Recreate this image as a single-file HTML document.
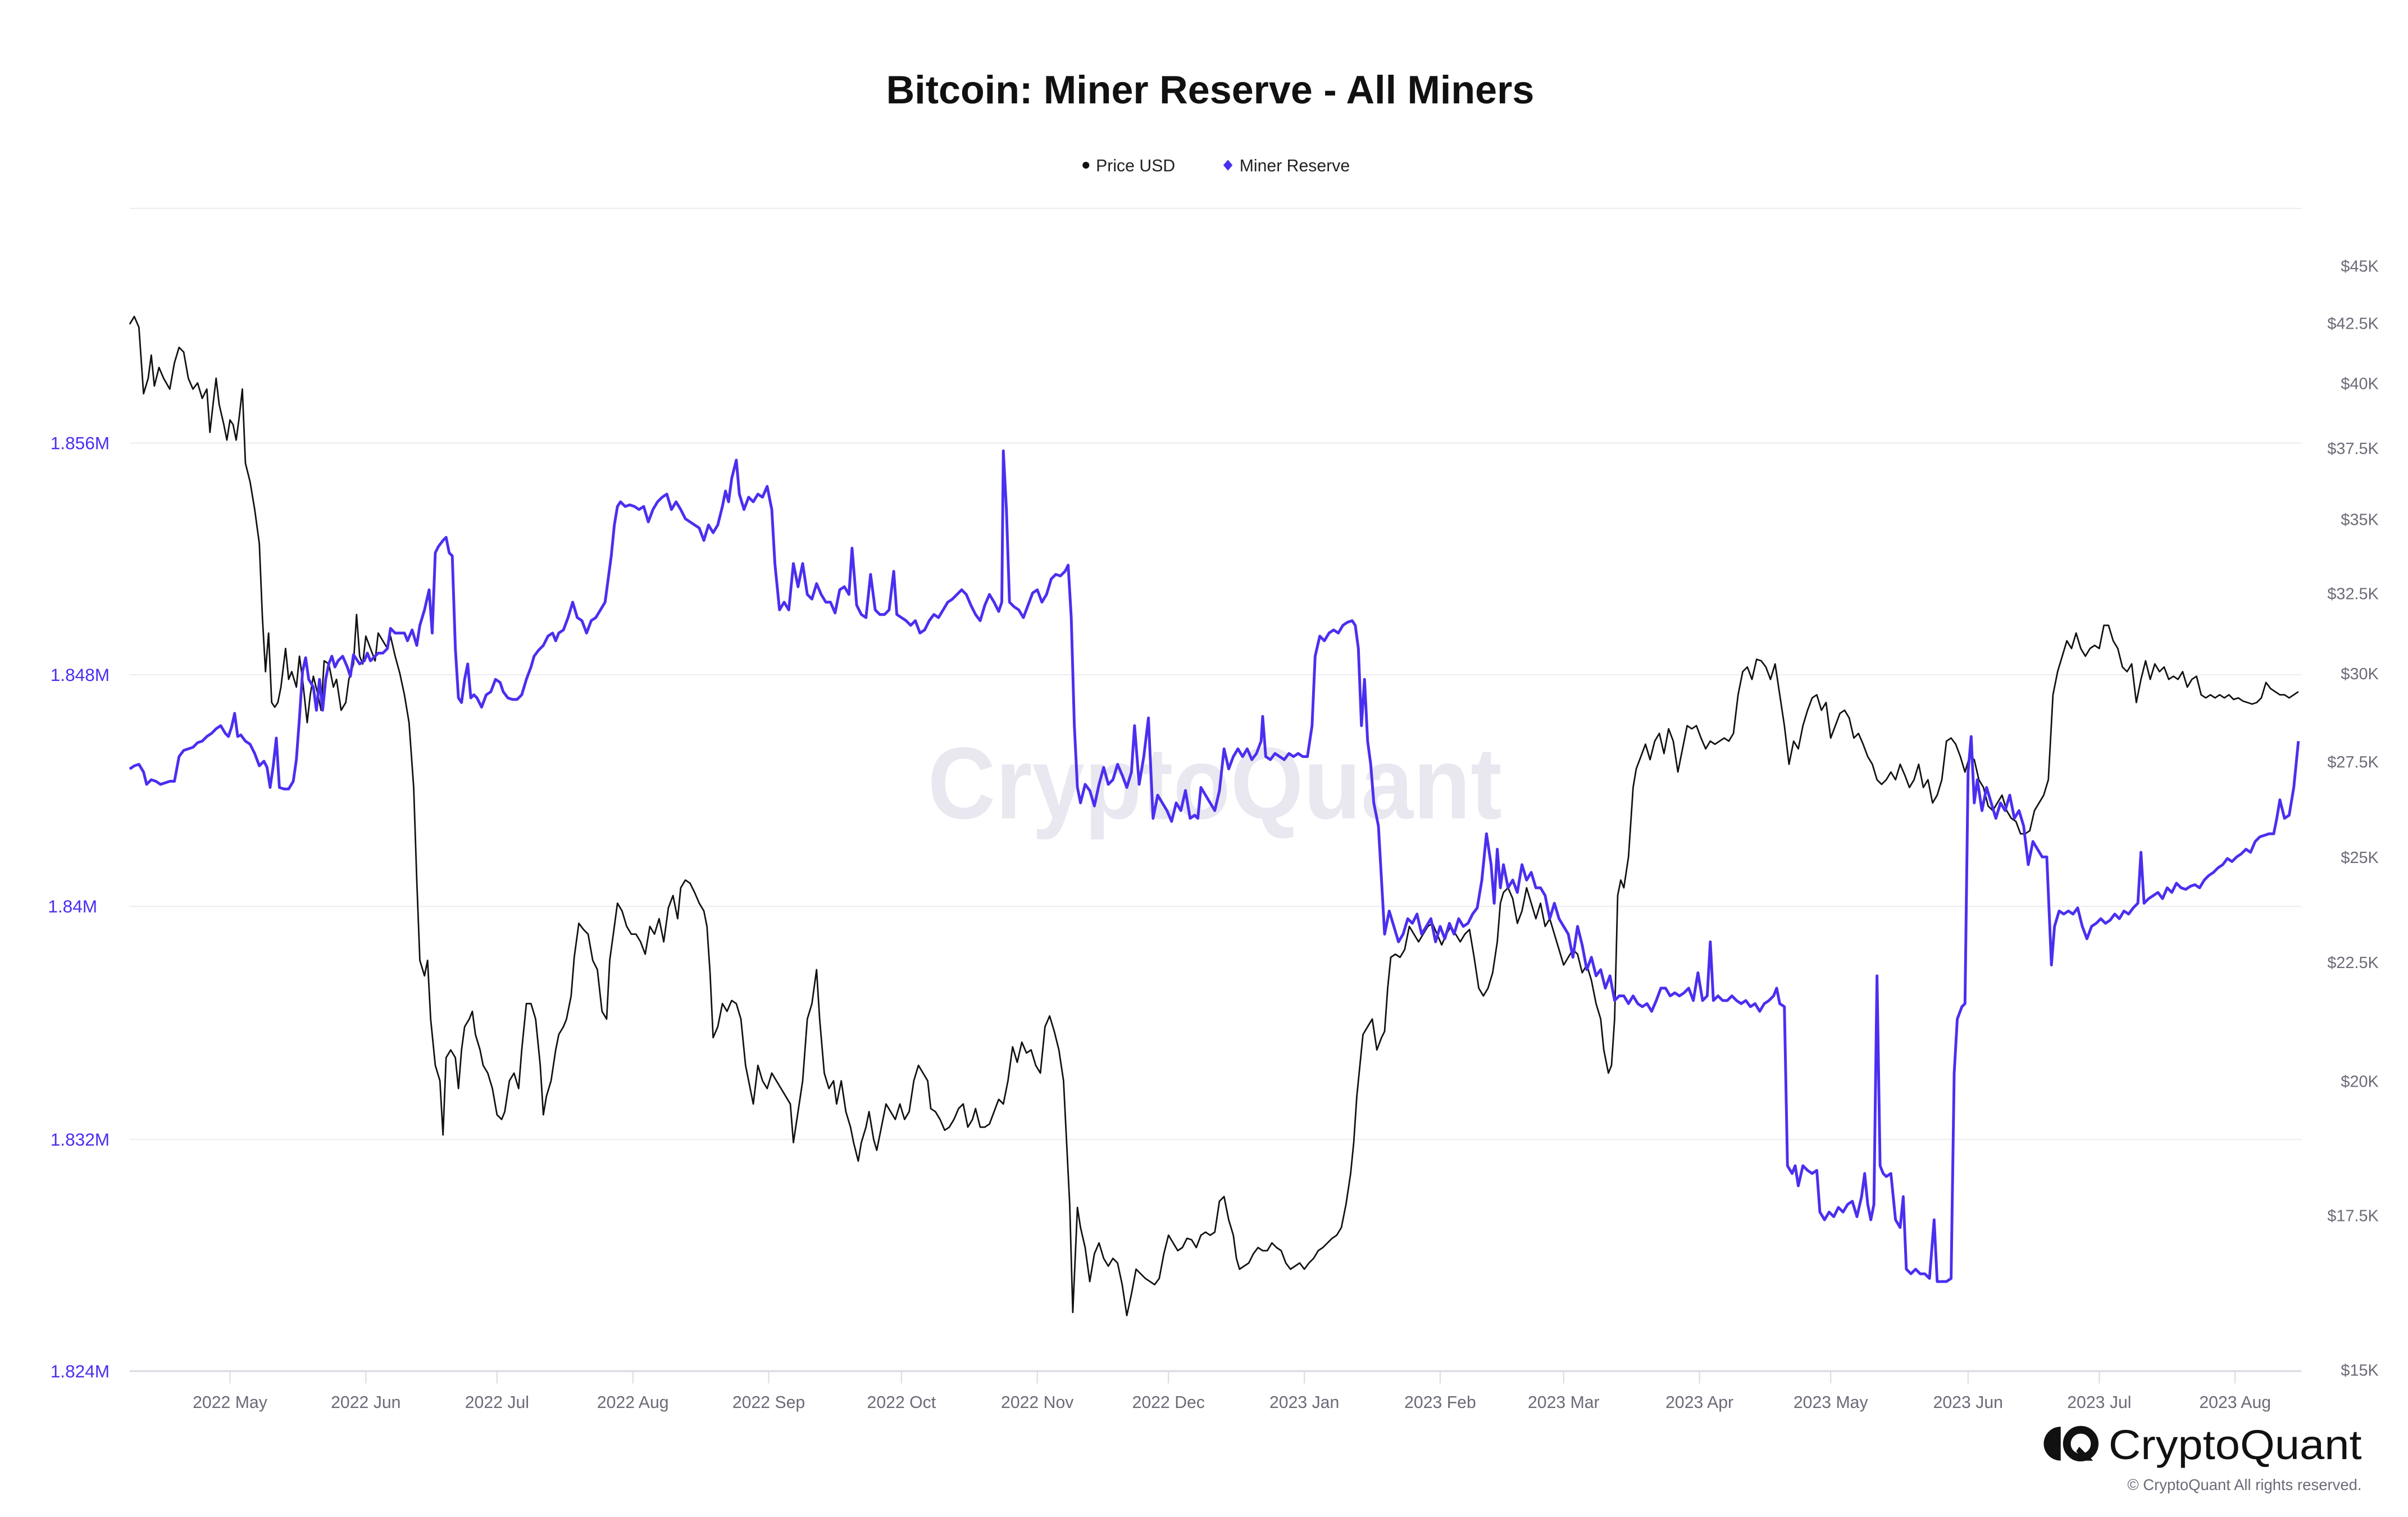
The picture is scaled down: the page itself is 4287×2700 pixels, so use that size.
<!DOCTYPE html>
<html><head><meta charset="utf-8"><style>
html,body{margin:0;padding:0;background:#fff;}
svg{display:block;}
text{font-family:"Liberation Sans",Arial,sans-serif;}
</style></head><body>
<svg width="4287" height="2700" viewBox="0 0 1560 982.5" xmlns="http://www.w3.org/2000/svg">
<rect width="1560" height="982.5" fill="#fff"/>
<text x="784" y="67" text-anchor="middle" font-size="25.5" font-weight="bold" fill="#111">Bitcoin: Miner Reserve - All Miners</text>
<circle cx="703.5" cy="107" r="2.2" fill="#111"/>
<text x="710" y="111" font-size="11" fill="#222">Price USD</text>
<path d="M795.5 103.5 L798.5 107 L795.5 110.5 L792.5 107Z" fill="#4a2ff0"/>
<text x="803" y="111" font-size="11" fill="#222">Miner Reserve</text>
<g stroke="#eeeef2" stroke-width="0.8">
<line x1="84" x2="1491" y1="135" y2="135"/>
<line x1="84" x2="1491" y1="287" y2="287"/>
<line x1="84" x2="1491" y1="437" y2="437"/>
<line x1="84" x2="1491" y1="587" y2="587"/>
<line x1="84" x2="1491" y1="738" y2="738"/>
</g>
<line x1="84" x2="1491" y1="888" y2="888" stroke="#dcdce4" stroke-width="1.2"/>
<g stroke="#dcdce4" stroke-width="0.8">
<line x1="149" x2="149" y1="888" y2="896"/><line x1="237" x2="237" y1="888" y2="896"/><line x1="322" x2="322" y1="888" y2="896"/><line x1="410" x2="410" y1="888" y2="896"/><line x1="498" x2="498" y1="888" y2="896"/><line x1="584" x2="584" y1="888" y2="896"/><line x1="672" x2="672" y1="888" y2="896"/><line x1="757" x2="757" y1="888" y2="896"/><line x1="845" x2="845" y1="888" y2="896"/><line x1="933" x2="933" y1="888" y2="896"/><line x1="1013" x2="1013" y1="888" y2="896"/><line x1="1101" x2="1101" y1="888" y2="896"/><line x1="1186" x2="1186" y1="888" y2="896"/><line x1="1275" x2="1275" y1="888" y2="896"/><line x1="1360" x2="1360" y1="888" y2="896"/><line x1="1448" x2="1448" y1="888" y2="896"/>
</g>
<g font-size="11" fill="#6b6b78" text-anchor="middle">
<text x="149" y="912">2022 May</text><text x="237" y="912">2022 Jun</text><text x="322" y="912">2022 Jul</text><text x="410" y="912">2022 Aug</text><text x="498" y="912">2022 Sep</text><text x="584" y="912">2022 Oct</text><text x="672" y="912">2022 Nov</text><text x="757" y="912">2022 Dec</text><text x="845" y="912">2023 Jan</text><text x="933" y="912">2023 Feb</text><text x="1013" y="912">2023 Mar</text><text x="1101" y="912">2023 Apr</text><text x="1186" y="912">2023 May</text><text x="1275" y="912">2023 Jun</text><text x="1360" y="912">2023 Jul</text><text x="1448" y="912">2023 Aug</text>
</g>
<g font-size="11.5" fill="#4a2ff0" text-anchor="end">
<text x="71" y="291">1.856M</text><text x="71" y="441">1.848M</text><text x="63" y="591">1.84M</text><text x="71" y="742">1.832M</text><text x="71" y="892">1.824M</text>
</g>
<g font-size="10.5" fill="#6b6b78" text-anchor="end">
<text x="1541" y="176">$45K</text><text x="1541" y="213">$42.5K</text><text x="1541" y="252">$40K</text><text x="1541" y="294">$37.5K</text><text x="1541" y="340">$35K</text><text x="1541" y="388">$32.5K</text><text x="1541" y="440">$30K</text><text x="1541" y="497">$27.5K</text><text x="1541" y="559">$25K</text><text x="1541" y="627">$22.5K</text><text x="1541" y="704">$20K</text><text x="1541" y="791">$17.5K</text><text x="1541" y="891">$15K</text>
</g>
<text x="787" y="530" text-anchor="middle" font-size="66" font-weight="bold" fill="#e9e7ef" textLength="372" lengthAdjust="spacingAndGlyphs">CryptoQuant</text>
<polyline fill="none" stroke="#111" stroke-width="1" stroke-linejoin="round" points="84,210 87,205 90,212 93,255 96,245 98,230 100,250 103,238 106,245 110,252 113,235 116,225 119,228 122,245 125,252 128,248 131,258 134,252 136,280 138,262 140,245 142,262 145,275 147,285 149,272 151,275 153,285 155,270 157,252 159,300 162,312 165,330 168,352 170,400 172,435 174,410 176,455 178,458 180,455 182,445 185,420 187,440 189,435 192,445 194,425 196,440 199,468 201,450 203,438 206,450 208,460 210,428 213,430 216,445 218,440 221,460 224,455 226,440 229,430 231,398 233,425 235,430 237,412 240,420 243,428 245,410 248,415 251,420 253,412 256,425 259,436 262,450 265,468 268,510 270,570 272,622 275,632 277,622 279,660 282,690 285,700 287,735 289,685 292,680 295,685 297,705 299,680 301,665 304,660 306,655 308,670 311,680 313,690 316,695 319,705 322,722 325,725 327,720 330,700 333,695 336,705 338,680 341,650 344,650 347,660 350,690 352,722 354,710 357,700 360,680 362,670 365,665 367,660 370,645 372,620 375,598 378,602 381,605 384,622 387,628 390,655 393,660 395,622 398,600 400,585 403,590 406,600 409,605 412,605 415,610 418,618 421,600 424,605 427,595 430,610 433,588 436,580 439,595 441,575 444,570 447,572 450,578 453,585 456,590 458,600 460,630 462,672 465,665 468,650 471,655 474,648 477,650 480,660 483,690 486,705 488,715 491,690 494,700 497,705 500,695 503,700 506,705 509,710 512,715 514,740 517,720 520,700 523,660 526,650 529,628 531,660 534,695 537,705 540,700 542,715 545,700 548,720 551,730 553,740 556,752 558,740 561,730 563,720 566,738 568,745 571,730 574,715 577,720 580,725 583,715 586,725 589,720 592,700 595,690 598,695 601,700 603,718 606,720 609,725 612,732 615,730 618,725 621,718 624,715 627,730 630,725 632,718 635,730 638,730 641,728 644,720 647,712 650,715 653,700 656,678 659,688 662,675 665,682 668,680 671,690 674,695 677,665 680,658 683,668 686,680 689,700 691,740 693,780 695,850 698,782 700,795 703,808 706,830 709,812 712,805 715,815 718,820 721,815 724,818 727,832 730,852 733,838 736,822 739,825 742,828 745,830 748,832 751,828 754,812 757,800 760,805 763,810 766,808 769,802 772,803 775,808 778,800 781,798 784,800 787,798 790,778 793,775 796,790 799,800 801,815 803,822 806,820 809,818 812,812 815,808 818,810 821,810 824,805 827,808 830,810 833,818 836,822 839,820 842,818 845,822 848,818 851,815 854,810 857,808 860,805 863,802 866,800 869,795 872,780 875,760 877,740 879,710 881,690 883,670 886,665 889,660 892,680 895,672 897,668 899,640 901,620 904,618 907,620 910,615 913,600 916,605 919,610 922,605 925,600 928,598 931,605 934,612 937,605 940,600 943,605 946,610 949,605 952,602 955,620 958,640 961,645 964,640 967,630 970,610 972,585 974,578 977,575 980,582 983,598 986,590 989,575 992,585 995,595 998,585 1001,600 1004,595 1007,605 1010,615 1013,625 1016,620 1019,615 1022,618 1025,630 1028,625 1031,635 1034,650 1037,660 1039,680 1042,695 1044,690 1046,660 1048,580 1050,570 1052,575 1055,555 1058,510 1060,498 1063,490 1066,482 1069,492 1072,480 1075,475 1078,488 1081,472 1084,480 1087,500 1090,485 1093,470 1096,472 1099,470 1102,478 1105,485 1108,480 1111,482 1114,480 1117,478 1120,480 1123,475 1126,450 1129,435 1132,432 1135,440 1138,427 1141,428 1144,432 1147,440 1150,430 1153,450 1156,470 1159,495 1162,480 1165,485 1168,470 1171,460 1174,452 1177,450 1180,460 1183,455 1186,478 1189,470 1192,462 1195,460 1198,465 1201,478 1204,475 1207,482 1210,490 1213,495 1216,505 1219,508 1222,505 1225,500 1228,505 1231,495 1234,502 1237,510 1240,505 1243,495 1246,510 1249,505 1252,520 1255,515 1258,505 1261,480 1264,478 1267,482 1270,490 1273,500 1276,490 1279,492 1282,505 1285,510 1288,522 1291,525 1294,520 1297,515 1300,525 1303,530 1306,532 1309,540 1312,540 1315,538 1318,525 1321,520 1324,515 1327,505 1330,450 1333,435 1336,425 1339,415 1342,420 1345,410 1348,420 1351,425 1354,420 1357,418 1360,420 1363,405 1366,405 1369,415 1372,420 1375,432 1378,435 1381,430 1384,455 1387,440 1390,428 1393,440 1396,430 1399,435 1402,432 1405,440 1408,438 1411,440 1414,435 1417,445 1420,440 1423,438 1426,450 1429,452 1432,450 1435,452 1438,450 1441,452 1444,450 1447,453 1450,452 1453,454 1456,455 1459,456 1462,455 1465,452 1468,442 1471,446 1474,448 1477,450 1480,450 1483,452 1486,450 1489,448"/>
<polyline fill="none" stroke="#4a2ff0" stroke-width="1.8" stroke-linejoin="round" points="84,498 87,496 90,495 93,500 95,508 98,505 101,506 104,508 107,507 110,506 113,506 116,490 119,486 122,485 125,484 128,481 131,480 134,477 137,475 140,472 143,470 146,475 148,477 150,471 152,462 154,477 156,476 159,480 162,482 165,488 168,496 171,493 173,497 175,510 177,496 179,478 181,510 184,511 187,511 190,506 192,492 194,465 196,435 198,426 200,440 203,445 205,460 207,440 209,460 211,440 213,430 215,425 217,432 219,428 222,425 225,432 227,438 229,424 231,427 233,430 236,428 238,423 240,428 243,425 245,423 248,423 251,420 253,407 256,410 259,410 262,410 264,415 267,408 270,418 272,405 275,395 278,382 280,410 282,358 284,354 287,350 289,348 291,358 293,360 295,420 297,452 299,455 301,440 303,430 305,452 307,450 309,452 312,458 315,450 318,448 321,440 324,442 326,448 329,452 332,453 335,453 338,450 341,440 344,432 346,425 349,421 352,418 355,412 358,410 360,415 362,410 365,408 368,400 371,390 374,400 377,402 380,410 383,402 386,400 389,395 392,390 394,375 396,360 398,340 400,328 402,325 405,328 408,327 411,328 414,330 417,328 420,338 423,330 426,325 429,322 432,320 435,330 438,325 441,330 444,336 447,338 450,340 453,342 456,350 459,340 462,345 465,340 468,328 470,318 472,325 474,310 477,298 479,320 482,330 485,322 488,325 491,320 494,322 497,315 500,330 502,365 505,395 508,390 511,395 514,365 517,380 520,365 523,385 526,388 529,378 532,385 535,390 538,390 541,397 544,382 547,380 550,385 552,355 555,392 558,398 561,400 564,372 567,395 570,398 573,398 576,395 579,370 581,398 584,400 587,402 590,405 593,402 596,410 599,408 602,402 605,398 608,400 611,395 614,390 617,388 620,385 623,382 626,385 629,392 632,398 635,402 638,392 641,385 644,390 647,396 649,390 650,292 652,330 654,390 657,393 660,395 663,400 666,392 669,384 672,382 675,390 678,385 681,375 684,372 687,373 690,370 692,366 694,400 696,470 698,510 700,520 703,508 706,512 709,522 712,508 715,497 718,508 721,505 724,495 727,502 730,510 733,500 735,470 738,508 741,490 744,465 747,530 750,515 753,520 756,525 759,532 762,520 765,525 768,512 771,530 774,528 776,530 778,510 781,515 784,520 787,525 790,512 793,485 796,498 799,490 802,485 805,490 808,485 811,492 814,488 817,480 818,464 820,490 823,492 826,488 829,490 832,492 835,488 838,490 841,488 844,490 847,490 850,470 852,425 855,412 858,415 861,410 864,408 867,410 870,405 873,403 876,402 878,405 880,420 882,470 884,440 886,480 888,495 890,520 893,535 895,570 897,605 900,590 903,600 906,610 909,605 912,595 915,598 918,592 921,605 924,600 927,595 930,610 933,600 936,608 939,598 942,605 945,595 948,600 951,598 954,592 957,588 960,570 963,540 966,560 968,585 970,550 972,575 974,560 977,575 980,570 983,578 986,560 989,570 992,565 995,575 998,575 1001,580 1004,595 1007,585 1010,595 1013,600 1016,605 1019,620 1022,600 1025,612 1028,628 1031,620 1034,632 1037,628 1040,640 1043,632 1046,648 1049,645 1052,645 1055,650 1058,645 1061,650 1064,652 1067,650 1070,655 1073,648 1076,640 1079,640 1082,645 1085,643 1088,645 1091,643 1094,640 1097,648 1100,630 1103,648 1106,645 1108,610 1110,648 1113,645 1116,648 1119,648 1122,645 1125,648 1128,650 1131,648 1134,652 1137,650 1140,655 1143,650 1146,648 1149,645 1151,640 1153,650 1156,652 1158,755 1161,760 1163,755 1165,768 1168,755 1171,758 1174,760 1177,758 1179,785 1182,790 1185,785 1188,788 1191,782 1194,785 1197,780 1200,778 1203,788 1206,775 1208,760 1210,780 1212,790 1214,780 1216,632 1218,755 1220,760 1222,762 1225,760 1228,790 1231,795 1233,775 1235,822 1238,825 1241,822 1244,825 1247,825 1250,828 1253,790 1255,830 1258,830 1261,830 1264,828 1266,695 1268,660 1271,652 1273,650 1275,500 1277,477 1279,520 1281,505 1284,525 1287,510 1290,520 1293,530 1296,520 1299,525 1302,515 1305,530 1308,525 1311,535 1314,560 1317,545 1320,550 1323,555 1326,555 1329,625 1331,600 1334,590 1337,592 1340,590 1343,592 1346,588 1349,600 1352,608 1355,600 1358,598 1361,595 1364,598 1367,596 1370,592 1373,595 1376,590 1379,592 1382,588 1385,585 1387,552 1389,585 1392,582 1395,580 1398,578 1401,582 1404,575 1407,578 1410,572 1413,575 1416,576 1419,574 1422,573 1425,575 1428,570 1431,567 1434,565 1437,562 1440,560 1443,556 1446,558 1449,555 1452,553 1455,550 1458,552 1461,545 1464,542 1467,541 1470,540 1473,540 1475,530 1477,518 1480,530 1483,528 1486,510 1489,480"/>
<g fill="#111">
<path d="M1335,924 A11,11 0 0 0 1335,946 Z"/>
<circle cx="1348" cy="935" r="9" fill="none" stroke="#111" stroke-width="5"/>
<path d="M1347,937 L1356,946 L1351,946 L1345,940Z"/>
</g>
<text x="1366" y="945" font-size="27" fill="#111" textLength="164" lengthAdjust="spacingAndGlyphs">CryptoQuant</text>
<text x="1530" y="965" text-anchor="end" font-size="10" fill="#6b6b78">© CryptoQuant All rights reserved.</text>
</svg>
</body></html>
